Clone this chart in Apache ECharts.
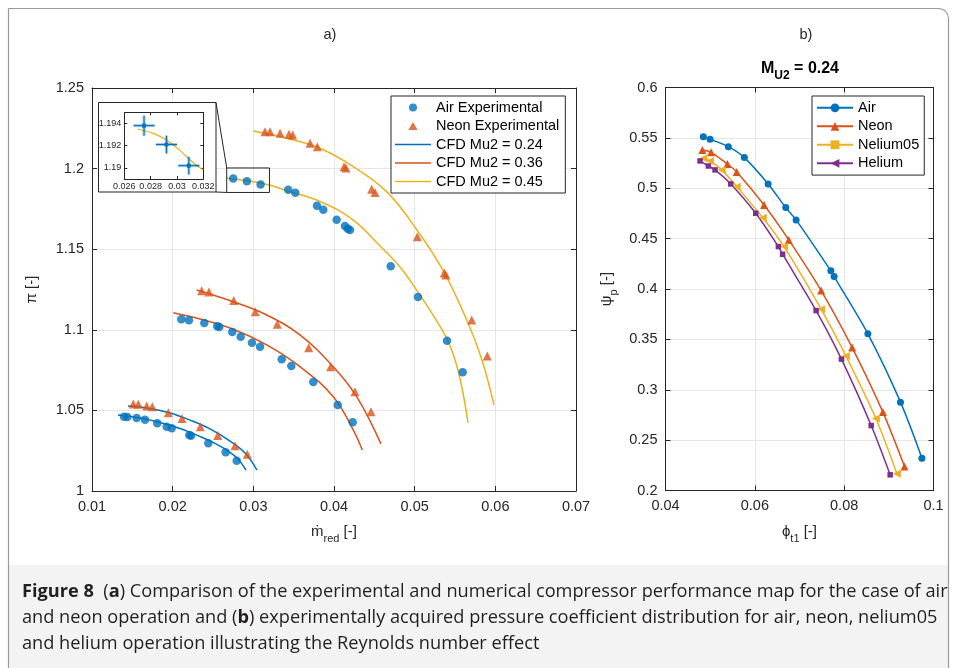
<!DOCTYPE html>
<html><head><meta charset="utf-8">
<script src="https://cdn.jsdelivr.net/npm/echarts@6/dist/echarts.min.js"></script>
<style>html,body{margin:0;padding:0;background:#fff}#c{width:956px;height:668px}</style>
</head><body><div id="c"></div>
<script>
const FONT = 'Liberation Sans, Arial, Helvetica, sans-serif';
const CAP_FONT = 'Open Sans, Noto Sans, sans-serif';
const C_BLUE = '#0072BD', C_RED = '#D95319', C_YEL = '#EDB120', C_PUR = '#7E2F8E';

// ---------- Panel a) ----------
const mdotTicks = [0.01, 0.02, 0.03, 0.04, 0.05, 0.06, 0.07];
const piTicks = [1, 1.05, 1.1, 1.15, 1.2, 1.25];
const airExp = [
  [0.01397,1.0461],[0.01438,1.0459],[0.01554,1.0453],[0.01657,1.0442],[0.01809,1.0420],[0.01926,1.0399],
  [0.01988,1.0389],[0.02206,1.0347],[0.02227,1.0343],[0.02442,1.0296],[0.02657,1.0240],[0.02794,1.0188],
  [0.02107,1.1065],[0.02202,1.1059],[0.02392,1.1042],[0.02553,1.1022],[0.02578,1.1017],[0.02739,1.0986],
  [0.02843,1.0957],[0.02983,1.0920],[0.03083,1.0895],[0.03352,1.0817],[0.03471,1.0775],[0.03743,1.0676],
  [0.04046,1.0533],[0.04232,1.0426],
  [0.0275,1.1938],[0.0292,1.1921],[0.0309,1.1902],[0.03433,1.1869],[0.0352,1.1850],[0.03789,1.1770],
  [0.03867,1.1745],[0.04033,1.1683],[0.04136,1.1644],[0.0417,1.1627],[0.04198,1.1619],[0.04703,1.1394],
  [0.05041,1.1203],[0.05401,1.0932],[0.05595,1.0736]
];
const neonExp = [
  [0.01512,1.0540],[0.01574,1.0538],[0.01678,1.0527],[0.01748,1.0523],[0.01946,1.0486],[0.02116,1.0449],
  [0.02343,1.0399],[0.02559,1.0345],[0.02773,1.0281],[0.02925,1.0228],
  [0.02360,1.1243],[0.02450,1.1235],[0.02757,1.1181],[0.03024,1.1112],[0.03297,1.1034],[0.03686,1.0889],
  [0.03959,1.0771],[0.04260,1.0616],[0.04459,1.0492],
  [0.03145,1.2229],[0.03207,1.2229],[0.03331,1.2219],[0.03442,1.2213],[0.03488,1.2208],[0.03703,1.2157],
  [0.03793,1.2136],[0.04124,1.2012],[0.04149,1.2004],[0.04467,1.1872],[0.04508,1.1851],[0.05033,1.1578],
  [0.05367,1.1352],[0.05388,1.1340],[0.05707,1.1061],[0.05900,1.0837]
];
const cfd024Air = [[0.01322,1.0471],[0.01595,1.0453],[0.01843,1.0425],[0.02091,1.0388],[0.02339,1.0338],[0.02525,1.0295],[0.02686,1.0248],[0.02810,1.0199],[0.02909,1.0130]];
const cfd024Neon = [[0.01446,1.0527],[0.01719,1.0512],[0.01967,1.0484],[0.02215,1.0440],[0.02463,1.0385],[0.02711,1.0310],[0.02897,1.0236],[0.03045,1.0130]];
const cfd036Air = [[0.02008,1.1106],[0.02339,1.1067],[0.02752,1.1003],[0.03166,1.0906],[0.03578,1.0771],[0.03991,1.0585],[0.04239,1.0378],[0.04351,1.0254]];
const cfd036Neon = [[0.02298,1.1247],[0.02752,1.1174],[0.03166,1.1092],[0.03578,1.0968],[0.03991,1.0771],[0.04281,1.0585],[0.04582,1.0292]];
const cfd045Air = [[0.02670,1.1940],[0.03000,1.1919],[0.03198,1.1898],[0.03414,1.1863],[0.03826,1.1796],[0.04239,1.1681],[0.04570,1.1520],[0.04818,1.1390],[0.05041,1.1234],[0.05227,1.1092],[0.05401,1.0943],[0.05512,1.0794],[0.05599,1.0608],[0.05661,1.0422]];
const cfd045Neon = [[0.03000,1.2233],[0.03414,1.2188],[0.03826,1.2126],[0.04239,1.2012],[0.04653,1.1857],[0.05029,1.1619],[0.05355,1.1365],[0.05645,1.1061],[0.05834,1.0813],[0.05983,1.0533]];
// zoom rectangle [xMin, yMin, xMax, yMax]
const zoomBox = [0.0267, 1.1852, 0.0320, 1.2004];
// inset
const insetXTicks = [0.026, 0.028, 0.03, 0.032];
const insetYTicks = [1.19, 1.192, 1.194];
const insetYRange = [1.189, 1.195];
const insetAir = [[0.0275,1.1938,0.0008,0.0009],[0.0292,1.1921,0.0008,0.0008],[0.0309,1.1902,0.0008,0.0008]];
const insetCfd = [[0.0270,1.1935],[0.0282,1.1931],[0.0292,1.1925],[0.0302,1.1916],[0.0312,1.1905],[0.0320,1.1898]];

// ---------- Panel b) ----------
const phiTicks = [0.04, 0.06, 0.08, 0.1];
const psiTicks = [0.2, 0.25, 0.3, 0.35, 0.4, 0.45, 0.5, 0.55, 0.6];
const psiAir = [[0.04847,0.5512],[0.04997,0.5486],[0.05407,0.5413],[0.05766,0.5304],[0.06297,0.5043],[0.06693,0.4808],[0.06924,0.4686],[0.07702,0.4180],[0.07775,0.4123],[0.08531,0.3555],[0.09261,0.2877],[0.09741,0.2321]];
const psiNeon = [[0.04825,0.5380],[0.0502,0.5357],[0.05385,0.5241],[0.05595,0.5162],[0.06207,0.4834],[0.0676,0.4487],[0.07484,0.3984],[0.08179,0.3419],[0.08867,0.2778],[0.09351,0.2238]];
const psiNelium = [[0.04847,0.5298],[0.04997,0.5271],[0.05259,0.5182],[0.05595,0.5016],[0.06178,0.4708],[0.06655,0.4421],[0.07484,0.3800],[0.08038,0.3336],[0.0871,0.2714],[0.0918,0.2166]];
const psiHelium = [[0.04773,0.5271],[0.04959,0.5221],[0.05109,0.5182],[0.05461,0.5043],[0.06021,0.4752],[0.06527,0.4421],[0.06622,0.4345],[0.07372,0.3786],[0.07939,0.3304],[0.08605,0.2645],[0.0903,0.2156]];

const legendA = ['Air Experimental', 'Neon Experimental', 'CFD Mu2 = 0.24', 'CFD Mu2 = 0.36', 'CFD Mu2 = 0.45'];
const legendB = ['Air', 'Neon', 'Nelium05', 'Helium'];
const captionLines = [
  '{b|Figure 8}  ({b|a}) Comparison of the experimental and numerical compressor performance map for the case of air',
  'and neon operation and ({b|b}) experimentally acquired pressure coefficient distribution for air, neon, nelium05',
  'and helium operation illustrating the Reynolds number effect'
];

// ---------- layout ----------
const G_A = {left: 92, top: 88, width: 484, height: 403};
const G_B = {left: 665.5, top: 87.5, width: 268, height: 403};
const G_I = {left: 124.3, top: 112.3, width: 79, height: 66.7};
const INSET_BOX = {x: 98.5, y: 102.5, w: 117.5, h: 89.5};
const LEFT_TRI = 'path://M0,5L9,0L9,10Z';
const ICON_TRI = 'path://M5,0L10,8.7L0,8.7Z';
const ICON_LINE = 'path://M0,0L36,0L36,1.5L0,1.5Z';

const fmt = v => String(+(+v).toFixed(4));
const step = a => +(a[1] - a[0]).toFixed(6);
const axisLineStyle = {show: true, onZero: false, lineStyle: {color: '#262626', width: 1}};
function mainAxis(ticks, grid, pos, extra) {
  return Object.assign({
    type: 'value', gridIndex: grid, position: pos,
    min: ticks[0], max: ticks[ticks.length - 1], interval: step(ticks),
    axisLine: axisLineStyle,
    axisTick: {show: true, inside: true, length: 5, lineStyle: {color: '#262626', width: 1}},
    axisLabel: {show: true, color: '#262626', fontSize: 14.5, fontFamily: FONT, margin: 8, formatter: fmt},
    splitLine: {show: true, lineStyle: {color: '#e6e6e6', width: 1}}
  }, extra || {});
}
function boxAxis(ticks, grid, pos) {
  return {
    type: 'value', gridIndex: grid, position: pos,
    min: ticks[0], max: ticks[ticks.length - 1], interval: step(ticks),
    axisLine: axisLineStyle,
    axisTick: {show: true, inside: true, length: 5, lineStyle: {color: '#262626', width: 1}},
    axisLabel: {show: false}, splitLine: {show: false}
  };
}
const nameStyle = {
  fontSize: 15, color: '#262626', fontFamily: FONT, lineHeight: 26,
  rich: {
    n: {fontSize: 15, lineHeight: 26, verticalAlign: 'middle', fontFamily: FONT, color: '#262626'},
    s: {fontSize: 11, lineHeight: 11, verticalAlign: 'bottom', fontFamily: FONT, color: '#262626'}
  }
};

const insetX = {
  type: 'value', gridIndex: 2, position: 'bottom', z: 10,
  min: insetXTicks[0], max: insetXTicks[insetXTicks.length - 1], interval: step(insetXTicks),
  axisLine: axisLineStyle,
  axisTick: {show: true, inside: true, length: 3, lineStyle: {color: '#262626'}},
  axisLabel: {show: true, fontSize: 9, color: '#262626', fontFamily: FONT, margin: 3, formatter: fmt},
  splitLine: {show: false}
};
const insetXTop = Object.assign({}, insetX, {position: 'top', axisLabel: {show: false}});
const insetY = {
  type: 'value', gridIndex: 2, position: 'left', z: 10,
  min: insetYRange[0], max: insetYRange[1],
  axisLine: axisLineStyle,
  axisTick: {show: true, inside: true, length: 3, customValues: insetYTicks, lineStyle: {color: '#262626'}},
  axisLabel: {show: true, fontSize: 9, color: '#262626', fontFamily: FONT, margin: 3, customValues: insetYTicks, formatter: fmt},
  splitLine: {show: false}
};
const insetYRight = Object.assign({}, insetY, {position: 'right', axisLabel: {show: false}});

function cfdSeries(name, data, color) {
  return {type: 'line', name, data, xAxisIndex: 0, yAxisIndex: 0, smooth: 0.4, symbol: 'none', showSymbol: false,
    lineStyle: {color, width: 1.5}, itemStyle: {color}, z: 2, silent: true};
}
function psiSeries(name, data, color, symbol, size, ptSymbol, ptSize) {
  return {type: 'line', name, xAxisIndex: 2, yAxisIndex: 2, smooth: 0.3, symbol, symbolSize: size, showSymbol: true,
    lineStyle: {color, width: 1.5}, itemStyle: {color}, z: 3, silent: true,
    data: ptSymbol ? data.map(d => ({value: d, symbol: ptSymbol, symbolSize: ptSize})) : data};
}

const graphics = [
  {type: 'rect', shape: {x: 9, y: 565, width: 939, height: 110}, style: {fill: '#f3f3f3'}, z: -1, silent: true},
  {type: 'rect', shape: {x: 8.5, y: 8.5, width: 940, height: 700, r: [0, 10, 0, 0]}, style: {fill: 'none', stroke: '#9a9a9a', lineWidth: 1.2}, z: 1, silent: true},
  {type: 'text', x: 330, y: 35, style: {text: 'a)', font: '14.5px ' + FONT, fill: '#262626', align: 'center', verticalAlign: 'middle'}, z: 1},
  {type: 'text', x: 806, y: 35, style: {text: 'b)', font: '14.5px ' + FONT, fill: '#262626', align: 'center', verticalAlign: 'middle'}, z: 1},
  {type: 'text', x: 800, y: 69, z: 1, style: {
    text: '{b|M}{s|U2}{b| = 0.24}', align: 'center', verticalAlign: 'middle', fill: '#000',
    rich: {b: {fontSize: 16, fontWeight: 'bold', fontFamily: FONT, lineHeight: 26, verticalAlign: 'middle', fill: '#000'},
           s: {fontSize: 12, fontWeight: 'bold', fontFamily: FONT, lineHeight: 12, verticalAlign: 'bottom', fill: '#000'}}}},
  {type: 'rect', shape: {x: INSET_BOX.x, y: INSET_BOX.y, width: INSET_BOX.w, height: INSET_BOX.h}, style: {fill: '#fff', stroke: '#262626', lineWidth: 1}, z: 5, silent: true}
];
captionLines.forEach((t, i) => {
  graphics.push({type: 'text', x: 22, y: 592 + i * 26, z: 1, style: {
    text: t, fill: '#231f20', font: '18.2px ' + CAP_FONT, verticalAlign: 'middle', align: 'left',
    rich: {b: {fontWeight: 'bold', fontSize: 18.2, fontFamily: CAP_FONT, fill: '#231f20'}}}});
});

const legendCommon = {orient: 'vertical', itemWidth: 36, borderColor: '#262626', borderWidth: 1, backgroundColor: '#fff',
  selectedMode: false, textStyle: {fontSize: 14.5, color: '#000', fontFamily: FONT}, z: 8};

const option = {
  animation: false,
  backgroundColor: '#fff',
  textStyle: {fontFamily: FONT},
  grid: [
    Object.assign({containLabel: false}, G_A),
    Object.assign({containLabel: false}, G_B),
    Object.assign({containLabel: false, z: 10}, G_I)
  ],
  xAxis: [
    mainAxis(mdotTicks, 0, 'bottom', {name: '{n|ṁ}{s|red}{n| [-]}', nameLocation: 'middle', nameGap: 23, nameTextStyle: nameStyle}),
    boxAxis(mdotTicks, 0, 'top'),
    mainAxis(phiTicks, 1, 'bottom', {name: '{n|ϕ}{s|t1}{n| [-]}', nameLocation: 'middle', nameGap: 23, nameTextStyle: nameStyle}),
    boxAxis(phiTicks, 1, 'top'),
    insetX, insetXTop
  ],
  yAxis: [
    mainAxis(piTicks, 0, 'left', {name: '{n|π [-]}', nameLocation: 'middle', nameGap: 47, nameRotate: 90, nameTextStyle: nameStyle}),
    boxAxis(piTicks, 0, 'right'),
    mainAxis(psiTicks, 1, 'left', {name: '{n|ψ}{s|p}{n| [-]}', nameLocation: 'middle', nameGap: 46, nameRotate: 90, nameTextStyle: nameStyle}),
    boxAxis(psiTicks, 1, 'right'),
    insetY, insetYRight
  ],
  legend: [
    Object.assign({}, legendCommon, {
      data: legendA.map((n, i) => i === 0 ? {name: n, icon: 'circle'} : i === 1 ? {name: n, icon: ICON_TRI} : {name: n, icon: ICON_LINE}),
      left: 391, top: 96, itemHeight: 8, itemGap: 3.5, padding: [4, 6, 4, 4]}),
    Object.assign({}, legendCommon, {
      data: legendB, left: 812, top: 96, itemHeight: 11, itemGap: 3.5, padding: [4.3, 5, 4.3, 4]})
  ],
  graphic: {elements: graphics},
  series: [
    cfdSeries('CFD Mu2 = 0.24', cfd024Air, C_BLUE),
    cfdSeries('CFD Mu2 = 0.24', cfd024Neon, C_BLUE),
    cfdSeries('CFD Mu2 = 0.36', cfd036Air, C_RED),
    cfdSeries('CFD Mu2 = 0.36', cfd036Neon, C_RED),
    cfdSeries('CFD Mu2 = 0.45', cfd045Air, C_YEL),
    cfdSeries('CFD Mu2 = 0.45', cfd045Neon, C_YEL),
    {type: 'scatter', name: 'Air Experimental', data: airExp, xAxisIndex: 0, yAxisIndex: 0, symbol: 'circle', symbolSize: 8.5, itemStyle: {color: C_BLUE}, z: 3, silent: true},
    {type: 'scatter', name: 'Neon Experimental', data: neonExp, xAxisIndex: 0, yAxisIndex: 0, symbol: 'triangle', symbolSize: 9, itemStyle: {color: C_RED}, z: 3, silent: true},
    {type: 'custom', name: 'zoom', xAxisIndex: 0, yAxisIndex: 0, data: [zoomBox], z: 6, silent: true, clip: false,
     encode: {x: [0, 2], y: [1, 3]},
     renderItem: (params, api) => {
       const tl = api.coord([api.value(0), api.value(3)]);
       const br = api.coord([api.value(2), api.value(1)]);
       const st = {stroke: '#262626', lineWidth: 1, fill: 'none'};
       return {type: 'group', children: [
         {type: 'rect', shape: {x: tl[0], y: tl[1], width: br[0] - tl[0], height: br[1] - tl[1]}, style: st},
         {type: 'line', shape: {x1: INSET_BOX.x + INSET_BOX.w, y1: INSET_BOX.y, x2: tl[0], y2: tl[1]}, style: st},
         {type: 'line', shape: {x1: INSET_BOX.x + INSET_BOX.w, y1: INSET_BOX.y + INSET_BOX.h, x2: tl[0], y2: br[1]}, style: st}
       ]};
     }},
    {type: 'line', name: 'insetCfd', data: insetCfd, xAxisIndex: 4, yAxisIndex: 4, smooth: 0.4, symbol: 'none',
     lineStyle: {color: C_YEL, width: 1.2}, z: 11, silent: true},
    {type: 'custom', name: 'insetErr', xAxisIndex: 4, yAxisIndex: 4, data: insetAir, z: 12, silent: true, clip: false,
     encode: {x: 0, y: 1},
     renderItem: (params, api) => {
       const x = api.value(0), y = api.value(1), ex = api.value(2), ey = api.value(3);
       const c = api.coord([x, y]);
       const l = api.coord([x - ex, y]), r = api.coord([x + ex, y]);
       const t = api.coord([x, y + ey]), b = api.coord([x, y - ey]);
       const light = {stroke: 'rgba(0,114,189,0.4)', lineWidth: 3};
       const dark = {stroke: C_BLUE, lineWidth: 1};
       return {type: 'group', children: [
         {type: 'line', shape: {x1: l[0], y1: l[1], x2: r[0], y2: r[1]}, style: light},
         {type: 'line', shape: {x1: t[0], y1: t[1], x2: b[0], y2: b[1]}, style: light},
         {type: 'line', shape: {x1: l[0], y1: l[1], x2: r[0], y2: r[1]}, style: dark},
         {type: 'line', shape: {x1: t[0], y1: t[1], x2: b[0], y2: b[1]}, style: dark},
         {type: 'circle', shape: {cx: c[0], cy: c[1], r: 2.3}, style: {fill: C_BLUE}}
       ]};
     }},
    psiSeries('Air', psiAir, C_BLUE, 'circle', 7),
    psiSeries('Neon', psiNeon, C_RED, 'triangle', 8),
    psiSeries('Nelium05', psiNelium, C_YEL, 'rect', 6, LEFT_TRI, 8),
    psiSeries('Helium', psiHelium, C_PUR, LEFT_TRI, 8, 'rect', 5.5)
  ]
};

const chart = echarts.init(document.getElementById('c'), null, {renderer: 'canvas'});
chart.setOption(option);
</script>
</body></html>
